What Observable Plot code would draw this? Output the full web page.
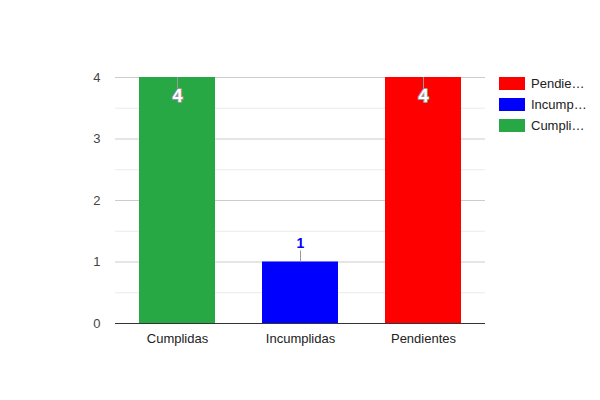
<!DOCTYPE html>
<html>
<head>
<meta charset="utf-8">
<script src="https://cdn.jsdelivr.net/npm/d3@7"></script>
<script src="https://cdn.jsdelivr.net/npm/@observablehq/plot@0.6"></script>
<style>
  body { margin: 0; background: #fff; font-family: Arial, "Liberation Sans", sans-serif; }
  #wrap { position: relative; width: 600px; height: 400px; }
  #legend { position: absolute; left: 499px; top: 77px; font-size: 13px; color: #222; }
  .item { display: flex; align-items: center; height: 13px; margin-bottom: 8px; }
  .sw { width: 26px; height: 13px; margin-right: 6px; }
</style>
</head>
<body>
<div id="wrap"><div id="legend"></div></div>
<script>
const categories = ["Cumplidas", "Incumplidas", "Pendientes"];
const values = [4, 1, 4];
const colors = ["#28a745", "#0000ff", "#ff0000"];
const legendLabels = ["Pendie…", "Incump…", "Cumpli…"];
const legendColors = ["#ff0000", "#0000ff", "#28a745"];
const yTicks = [0, 1, 2, 3, 4];
const yMinor = [0.5, 1.5, 2.5, 3.5];

const data = categories.map((c, i) => ({ cat: c, value: values[i], color: colors[i] }));
const stem = 0.18;
const inside = d => d.value >= 4;

const chart = Plot.plot({
  width: 600,
  height: 400,
  marginLeft: 115,
  marginRight: 115,
  marginTop: 77,
  marginBottom: 77,
  style: { fontFamily: "Arial, 'Liberation Sans', sans-serif", fontSize: "13px", background: "#fff" },
  x: { domain: categories, paddingInner: 0.38, paddingOuter: 0.19, label: null },
  y: { domain: [0, 4], label: null },
  marks: [
    Plot.ruleY(yMinor, { stroke: "#ebebeb" }),
    Plot.ruleY(yTicks.filter(t => t > 0), { stroke: "#cccccc" }),
    Plot.barY(data, { x: "cat", y: "value", fill: "color" }),
    Plot.ruleY([0], { stroke: "#333" }),
    Plot.ruleX(data, { x: "cat", y1: "value", y2: d => inside(d) ? d.value - stem : d.value + stem, stroke: "#999", strokeWidth: 1 }),
    Plot.text(data.filter(inside), { x: "cat", y: d => d.value - stem, text: d => String(d.value), dy: 8, fill: "white", stroke: "#999", strokeWidth: 2, fontWeight: "bold", fontSize: 18 }),
    Plot.text(data.filter(d => !inside(d)), { x: "cat", y: d => d.value + stem, text: d => String(d.value), dy: -7, fill: d => d.color, fontWeight: "bold", fontSize: 14 }),
    Plot.axisY(yTicks, { tickSize: 0, tickPadding: 15, tickFormat: d3.format("d"), fill: "#444", fontSize: 13, label: null }),
    Plot.axisX({ tickSize: 0, tickPadding: 10, fill: "#222", fontSize: 13, label: null })
  ]
});
document.getElementById("wrap").prepend(chart);

const legend = document.getElementById("legend");
legendLabels.forEach((l, i) => {
  const it = document.createElement("div");
  it.className = "item";
  const sw = document.createElement("div");
  sw.className = "sw";
  sw.style.background = legendColors[i];
  const tx = document.createElement("span");
  tx.textContent = l;
  it.appendChild(sw); it.appendChild(tx);
  legend.appendChild(it);
});
</script>
</body>
</html>
